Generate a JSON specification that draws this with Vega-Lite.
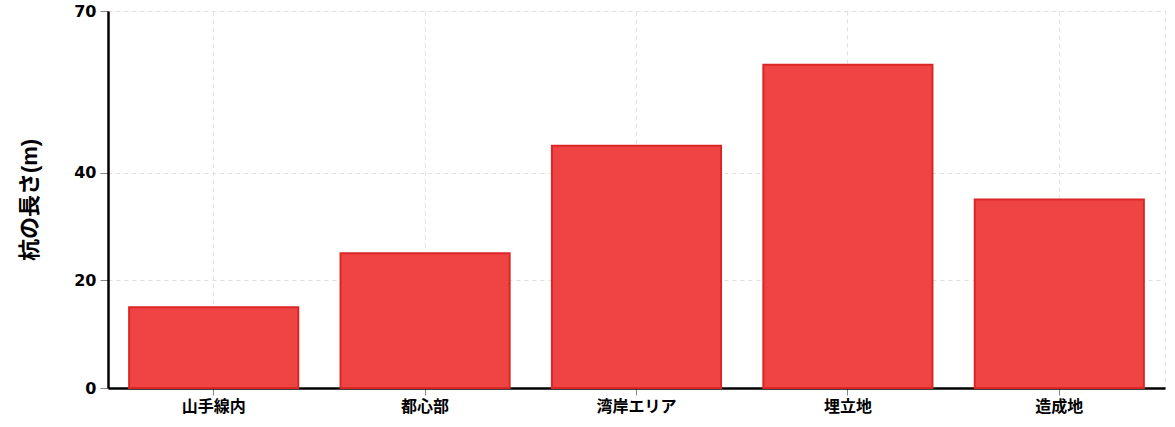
{
  "$schema": "https://vega.github.io/schema/vega-lite/v6.json",
  "autosize": {"type": "none"},
  "padding": {"left": 108, "top": 11, "right": 10, "bottom": 39},
  "width": 1057,
  "height": 377,
  "background": "white",
  "config": {
    "font": "DejaVu Sans, Noto Sans CJK JP",
    "view": {"stroke": "#e0e0e0", "strokeDash": [4, 4], "strokeWidth": 1}
  },
  "data": {
    "values": [
      {"area": "山手線内", "length": 15},
      {"area": "都心部", "length": 25},
      {"area": "湾岸エリア", "length": 45},
      {"area": "埋立地", "length": 60},
      {"area": "造成地", "length": 35}
    ]
  },
  "mark": {"type": "bar", "fill": "#EF4444", "stroke": "#DC2626", "strokeWidth": 2},
  "encoding": {
    "x": {
      "field": "area",
      "type": "nominal",
      "sort": null,
      "scale": {"paddingInner": 0.2, "paddingOuter": 0.1},
      "axis": {
        "title": null,
        "labelAngle": 0,
        "labelFont": "DejaVu Sans, Noto Sans CJK JP",
        "labelFontSize": 16,
        "labelFontWeight": "bold",
        "labelColor": "#000",
        "labelPadding": 3,
        "domainColor": "#000",
        "domainWidth": 2.5,
        "tickColor": "#888",
        "tickSize": 7,
        "grid": true,
        "gridColor": "#e0e0e0",
        "gridDash": [4, 4],
        "gridWidth": 1
      }
    },
    "y": {
      "field": "length",
      "type": "quantitative",
      "scale": {"domain": [0, 70], "nice": false},
      "axis": {
        "title": "杭の長さ(m)",
        "titleFont": "Liberation Sans, Noto Sans CJK JP",
        "titleFontSize": 22,
        "titleFontWeight": "bold",
        "titleColor": "#000",
        "titlePadding": 32,
        "values": [0, 20, 40, 70],
        "labelFont": "DejaVu Sans, Noto Sans CJK JP",
        "labelFontSize": 16,
        "labelFontWeight": "bold",
        "labelColor": "#000",
        "labelPadding": 4,
        "domainColor": "#000",
        "domainWidth": 2.5,
        "tickColor": "#888",
        "tickSize": 8,
        "grid": true,
        "gridColor": "#e0e0e0",
        "gridDash": [4, 4],
        "gridWidth": 1
      }
    }
  }
}
